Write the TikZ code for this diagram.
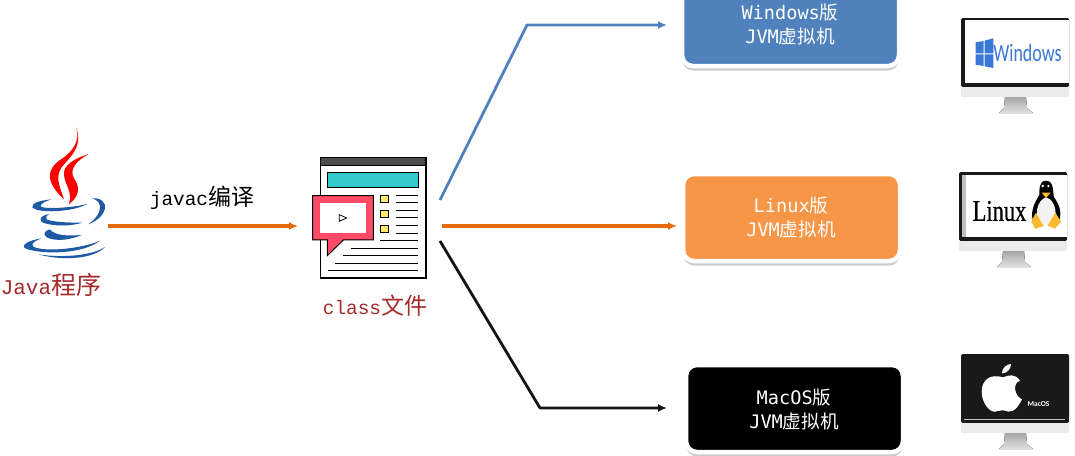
\documentclass[tikz,border=0pt]{standalone}
\usepackage{fontspec}
\newfontfamily\cjk{Noto Sans CJK SC}
\newfontfamily\boxmono{DejaVu Sans Mono}
\newfontfamily\capmono{Liberation Mono}
\newfontfamily\winfont{Carlito}
\newfontfamily\linfont{Liberation Serif}
\usetikzlibrary{arrows.meta,shadows}
\definecolor{winblue}{HTML}{4F81BD}
\definecolor{linorange}{HTML}{F79646}
\definecolor{arroworange}{HTML}{E46C0A}
\definecolor{javared}{HTML}{FF0000}
\definecolor{javablue}{HTML}{1F5AA6}
\definecolor{labelred}{HTML}{A52A2A}
\definecolor{teal2}{HTML}{36C9CC}
\definecolor{callout}{HTML}{FF4B66}
\definecolor{note}{HTML}{FFE96B}
\definecolor{logoblue}{HTML}{3A78D8}
\definecolor{tuxfoot}{HTML}{FDB92E}
\tikzset{
    third/.style={x=0.3333pt, y=-0.3333pt},
    vmbox/.style={draw=white, line width=4.5pt, rounded corners=11pt, minimum width=217pt, minimum height=87pt,
        drop shadow={shadow xshift=0pt, shadow yshift=-4.5pt, opacity=0.4}},
    vmtext/.style={text=white, align=center, font=\fontsize{18.6}{24}\selectfont\boxmono},
    caption/.style={font=\fontsize{19.4}{26}\selectfont\capmono},
    link/.style={line width=2.8pt, -{Latex[length=9pt,width=8pt]}},
    pics/monitor/.style={code={
        \fill[rounded corners=1.5pt, black!90] (0,0) rectangle (108,69);
        \fill[rounded corners=1pt, black!8] (0,69) rectangle (108,79);
        \fill[top color=black!35, bottom color=black!12] (44,79) -- (65,79) -- (66,90) -- (72,95) -- (38,95) -- (43,90) -- cycle;
    }}
}
\newcommand{\zh}[1]{{\cjk #1}}
\newcommand{\zhcap}[2][23]{{\fontsize{#1}{26}\selectfont\cjk #2}}
\begin{document}
\begin{tikzpicture}[x=1pt, y=-1pt]
    \useasboundingbox (0,0) rectangle (1075,455);
    \clip (0,0) rectangle (1075,455);

    % java logo
    \begin{scope}[shift={(0,110)}, third]
        \fill[javared] (228,52) .. controls (242,90) and (220,125) .. (180,150) .. controls (140,178) and (135,215) .. (192,268) .. controls (178,225) and (160,195) .. (195,160) .. controls (228,125) and (245,95) .. (228,52) -- cycle;
        \fill[javared] (266,132) .. controls (225,145) and (188,165) .. (192,195) .. controls (195,225) and (218,245) .. (207,282) .. controls (245,255) and (236,225) .. (222,205) .. controls (208,180) and (225,155) .. (266,132) -- cycle;
        \fill[javablue] (155,268) .. controls (115,272) and (95,280) .. (97,292) .. controls (110,310) and (215,308) .. (262,282) .. controls (210,295) and (120,298) .. (122,288) .. controls (122,280) and (140,272) .. (155,268) -- cycle;
        \fill[javablue] (275,265) .. controls (305,262) and (318,280) .. (315,295) .. controls (310,320) and (285,335) .. (265,343) .. controls (290,325) and (302,305) .. (300,288) .. controls (298,275) and (288,268) .. (275,265) -- cycle;
        \fill[javablue] (148,312) .. controls (115,318) and (115,335) .. (135,340) .. controls (170,350) and (215,348) .. (247,338) .. controls (200,338) and (155,336) .. (140,328) .. controls (135,322) and (140,316) .. (148,312) -- cycle;
        \fill[javablue] (150,358) .. controls (125,365) and (130,380) .. (150,386) .. controls (180,394) and (215,388) .. (245,375) .. controls (205,378) and (165,378) .. (150,358) -- cycle;
        \fill[javablue] (125,385) .. controls (80,392) and (60,408) .. (78,416) .. controls (130,435) and (250,432) .. (300,392) .. controls (250,415) and (135,428) .. (100,410) .. controls (90,402) and (105,392) .. (125,385) -- cycle;
        \fill[javablue] (115,433) .. controls (180,452) and (280,450) .. (316,410) .. controls (280,436) and (190,445) .. (115,433) -- cycle;
    \end{scope}

    % class file icon
    \begin{scope}[shift={(300,140)}, third]
        \draw[line width=1.2pt, fill=white] (62,52) rectangle (378,414);
        \draw[line width=1pt, fill=black!70] (62,52) rectangle (378,76);
        \draw[line width=1pt, fill=teal2] (83,98) rectangle (355,142);
        \foreach \y in {166,211,257}
            \draw[line width=1pt, fill=note] (241,\y) rectangle ++(24,22);
        \foreach \y in {166,187,211,232,257,280}
            \draw[line width=1pt] (288,\y) -- (355,\y);
        \foreach \x/\y in {240/301,153/325,130/347,105/370,85/392}
            \draw[line width=1pt] (\x,\y) -- (355,\y);
        \draw[line width=1pt, fill=callout] (38,167) -- (220,167) -- (220,300) -- (130,300) -- (82,347) -- (82,300) -- (38,300) -- cycle;
        \fill[white] (60,189) rectangle (198,278);
        \draw[line width=0.8pt, fill=white] (118,224) -- (140,234) -- (118,244) -- cycle;
    \end{scope}

    \node[caption, text=labelred, font=\fontsize{21}{26}\selectfont\capmono] (javalabel) at (51,285) {Java\zhcap[25]{程序}};
    \node[caption, text=labelred] (classlabel) at (375,306) {class\zhcap{文件}};
    \node[caption] (compilelabel) at (202,198) {javac\zhcap{编译}};

    \node[vmbox, fill=winblue] (winbox) at (790.5,22.5) {};
    \node[vmbox, fill=linorange] (linbox) at (791.5,217.5) {};
    \node[vmbox, fill=black] (macbox) at (794.5,408.5) {};
    \node[vmtext] (wintext) at (790,24) {Windows\zh{版}\\JVM\zh{虚拟机}};
    \node[vmtext] (lintext) at (791,217) {Linux\zh{版}\\JVM\zh{虚拟机}};
    \node[vmtext] (mactext) at (794,409) {MacOS\zh{版}\\JVM\zh{虚拟机}};

    \coordinate (javaout) at (108,226);
    \coordinate (classin) at (298,226);
    \coordinate (winout) at (440,200);
    \coordinate (winbend) at (527,25);
    \coordinate (winin) at (667,25);
    \coordinate (linout) at (442,226);
    \coordinate (linin) at (677,226);
    \coordinate (macout) at (440,241);
    \coordinate (macbend) at (540,408);
    \coordinate (macin) at (667,408);

    \draw[link, arroworange, line width=3.2pt] (javaout) -- (classin);
    \draw[link, winblue, line join=round] (winout) -- (winbend) -- (winin);
    \draw[link, arroworange, line width=3.2pt] (linout) -- (linin);
    \draw[link, black!92, line join=round] (macout) -- (macbend) -- (macin);

    % windows screen
    \pic at (961,18) {monitor};
    \fill[white] (965,20) rectangle (1069,83);
    \begin{scope}[shift={(940,0)}, third]
        \fill[logoblue] (107,127) -- (131,123) -- (131,160) -- (107,160) -- cycle;
        \fill[logoblue] (134,122) -- (160,115) -- (160,160) -- (134,160) -- cycle;
        \fill[logoblue] (107,163) -- (131,163) -- (131,198) -- (107,194) -- cycle;
        \fill[logoblue] (134,163) -- (160,163) -- (160,204) -- (134,199) -- cycle;
    \end{scope}
    \node[inner sep=0pt, xscale=0.72, transform shape, text=logoblue, font=\fontsize{25}{27}\selectfont\winfont] (winname) at (1027.5,53) {Windows};

    % linux screen
    \pic at (959,172) {monitor};
    \fill[black!25] (962,175) rectangle (966,237);
    \fill[white] (966,175) rectangle (1067,237);
    \node[inner sep=0pt, xscale=0.75, transform shape, font=\fontsize{30}{32}\selectfont\linfont\addfontfeature{FakeBold=0.6}] (linname) at (999.5,211) {Linux};
    \begin{scope}[shift={(940,160)}, third]
        \fill[black] (318,62) .. controls (342,62) and (338,95) .. (342,112) .. controls (360,135) and (368,165) .. (354,190) -- (282,190) .. controls (268,160) and (282,130) .. (298,105) .. controls (298,90) and (296,62) .. (318,62) -- cycle;
        \fill[black!5] (318,112) .. controls (350,120) and (355,175) .. (335,195) -- (300,195) .. controls (282,170) and (290,120) .. (318,112) -- cycle;
        \fill[white] (308,78) circle (4);
        \fill[white] (325,78) circle (4);
        \fill[tuxfoot] (305,98) -- (332,98) -- (318,114) -- cycle;
        \fill[tuxfoot] (288,158) -- (305,188) -- (311,198) -- (285,206) -- (274,184) -- cycle;
        \fill[tuxfoot] (346,158) -- (363,185) -- (345,206) -- (323,197) -- cycle;
    \end{scope}

    % mac screen
    \pic at (961,354) {monitor};
    \begin{scope}[shift={(940,340)}, third]
        \fill[white] (190,112) .. controls (150,100) and (125,120) .. (125,155) .. controls (125,190) and (150,217) .. (165,215) .. controls (180,212) and (190,208) .. (205,215) .. controls (225,218) and (240,190) .. (246,178) .. controls (225,170) and (215,130) .. (240,122) .. controls (225,100) and (205,105) .. (190,112) -- cycle;
        \fill[white] (186,100) .. controls (185,85) and (200,72) .. (213,72) .. controls (213,88) and (200,100) .. (186,100) -- cycle;
        \draw[black!25, line width=0.7pt] (72,238) -- (375,238);
    \end{scope}
    \node[inner sep=0pt, text=white, font=\fontsize{7.5}{8}\selectfont\bfseries\winfont] (macname) at (1038.5,404) {MacOS};
\end{tikzpicture}
\end{document}
